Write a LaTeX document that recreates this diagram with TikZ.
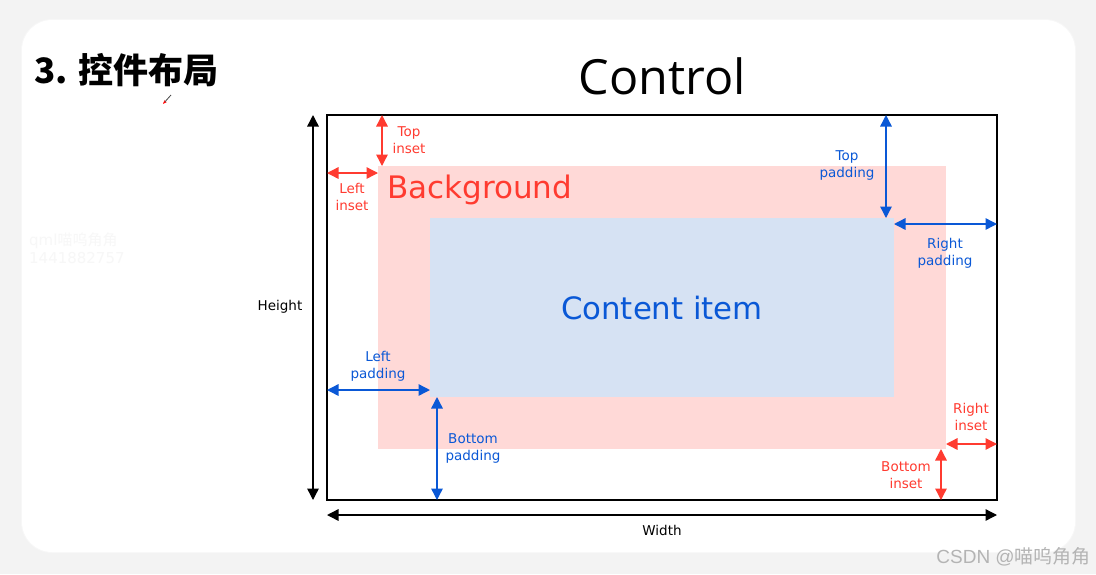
\documentclass[tikz,border=0pt]{standalone}
\usepackage{fontspec}
\setmainfont{DejaVu Sans}
\newfontfamily\cjk{Noto Sans CJK SC}
\newfontfamily\ctrlfont{Open Sans}
\newfontfamily\sitefont{Liberation Sans}
\usetikzlibrary{arrows.meta}

\definecolor{pagebg}{HTML}{F3F3F3}
\definecolor{insetred}{HTML}{FF3B30}
\definecolor{bgfill}{HTML}{FFD9D7}
\definecolor{contentfill}{HTML}{D6E2F3}
\definecolor{padblue}{HTML}{0A58D6}
\definecolor{marktext}{HTML}{B4B4B4}

\tikzset{
  dim/.style={line width=1.4pt, {Triangle[length=11.5pt,width=11.5pt]}-{Triangle[length=11.5pt,width=11.5pt]}},
  insetdim/.style={dim, draw=insetred, fill=insetred},
  paddim/.style={dim, draw=padblue, fill=padblue},
  sizedim/.style={dim, draw=black, fill=black},
  lbl/.style={inner sep=0pt, align=center, font=\fontsize{13.5}{17}\selectfont},
  insetlbl/.style={lbl, text=insetred},
  padlbl/.style={lbl, text=padblue},
}

\begin{document}
\begin{tikzpicture}[x=1pt,y=-1pt]
\useasboundingbox (0,0) rectangle (1096,574);
\fill[pagebg] (0,0) rectangle (1096,574);
\fill[black!3, rounded corners=31pt] (21,19) rectangle (1076,553);
\fill[white, rounded corners=30pt] (22,20) rectangle (1075,552);

% slide heading
\node[anchor=base west, inner sep=0pt, font=\cjk\bfseries\fontsize{35}{40}\selectfont] (title) at (34,83) {3.\hspace{11pt}控件布局};
% pen cursor mark
\coordinate (penA) at (171,95);
\coordinate (penB) at (163,104);
\draw[line width=0.8pt, black!70, -{Stealth[length=4pt,width=3pt,red]}] (penA) -- (penB);

% faint author mark
\node[anchor=west, inner sep=0pt, align=left, text=black!3, font=\fontsize{15}{18}\selectfont] (qmlmark) at (29,248) {qml{\cjk 喵呜角角}\\1441882757};

% control caption
\node[anchor=base, inner sep=0pt, font=\ctrlfont\fontsize{48.5}{50}\selectfont] (ctrl) at (662,94) {Control};

% key positions
\coordinate (oTL) at (327,115); \coordinate (oBR) at (997,500);
\coordinate (bTL) at (378,166); \coordinate (bBR) at (946,449);
\coordinate (cTL) at (430,218); \coordinate (cBR) at (894,397);

% background and content boxes
\fill[bgfill] (bTL) rectangle (bBR);
\fill[contentfill] (cTL) rectangle (cBR);
\draw[line width=1.5pt] (oTL) rectangle (oBR);

\node[anchor=base west, inner sep=0pt, text=insetred, font=\fontsize{31}{34}\selectfont] (bglabel) at (387,198) {Background};
\node[anchor=base, inner sep=0pt, text=padblue, font=\fontsize{30.8}{34}\selectfont] (contentlabel) at (662,319) {Content item};

% overall size
\coordinate (hT) at (313,115); \coordinate (hB) at (313,500);
\draw[sizedim] (hT) -- (hB);
\node[lbl] (hlabel) at (280,307) {Height};
\coordinate (wL) at (327,515); \coordinate (wR) at (997,515);
\draw[sizedim] (wL) -- (wR);
\node[lbl] (wlabel) at (662,530) {Width};

% insets
\coordinate (tiA) at (382,115); \coordinate (tiB) at (382,166);
\draw[insetdim] (tiA) -- (tiB);
\node[insetlbl] (tilabel) at (409,140) {Top\\inset};
\coordinate (liA) at (327,173); \coordinate (liB) at (378,173);
\draw[insetdim] (liA) -- (liB);
\node[insetlbl] (lilabel) at (352,197) {Left\\inset};
\coordinate (riA) at (946,444); \coordinate (riB) at (997,444);
\draw[insetdim] (riA) -- (riB);
\node[insetlbl] (rilabel) at (971,417) {Right\\inset};
\coordinate (biA) at (941,449); \coordinate (biB) at (941,500);
\draw[insetdim] (biA) -- (biB);
\node[insetlbl] (bilabel) at (906,475) {Bottom\\inset};

% paddings
\coordinate (tpA) at (886,115); \coordinate (tpB) at (886,218);
\draw[paddim] (tpA) -- (tpB);
\node[padlbl] (tplabel) at (847,165) {Top\\padding};
\coordinate (rpA) at (894,224); \coordinate (rpB) at (997,224);
\draw[paddim] (rpA) -- (rpB);
\node[padlbl] (rplabel) at (945,253) {Right\\padding};
\coordinate (lpA) at (327,390); \coordinate (lpB) at (430,390);
\draw[paddim] (lpA) -- (lpB);
\node[padlbl] (lplabel) at (378,366) {Left\\padding};
\coordinate (bpA) at (437,397); \coordinate (bpB) at (437,500);
\draw[paddim] (bpA) -- (bpB);
\node[padlbl] (bplabel) at (473,448) {Bottom\\padding};

% site mark
\node[anchor=east, inner sep=0pt, text=marktext, font=\fontsize{19}{22}\selectfont] (site) at (1091,557) {\sitefont CSDN @\cjk 喵呜角角};
\end{tikzpicture}
\end{document}
